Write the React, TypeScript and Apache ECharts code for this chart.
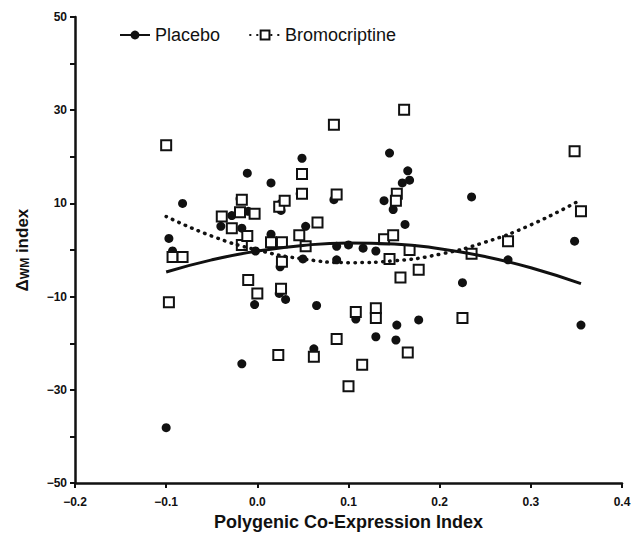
import React, { useEffect, useRef } from "react";
import * as echarts from "echarts";

// Placebo (filled circles)
const placeboX = [-0.100, -0.097, -0.093, -0.082, -0.040, -0.028, -0.019, -0.017, -0.011, -0.017, -0.010, -0.002, -0.003, 0.015, 0.015, 0.026, 0.026, 0.025, 0.024, 0.031, 0.047, 0.049, 0.053, 0.050, 0.065, 0.062, 0.084, 0.087, 0.087, 0.100, 0.116, 0.130, 0.108, 0.130, 0.145, 0.139, 0.149, 0.162, 0.153, 0.152, 0.177, 0.165, 0.159, 0.167, 0.225, 0.235, 0.275, 0.348, 0.355];
const placeboY = [-38.1, 2.5, -0.2, 10.0, 5.1, 7.4, 11.0, 4.7, 16.5, -24.4, 8.3, -0.2, -11.7, 14.4, 3.4, 10.0, 8.5, -3.6, -9.3, -10.6, 12.1, 19.7, 5.1, -1.9, -11.9, -21.2, 10.8, 0.8, -2.1, 1.1, 0.4, -0.2, -14.8, -18.6, 20.8, 10.6, 8.7, 5.5, -16.1, -19.3, -15.0, 17.0, 14.4, 15.0, -7.0, 11.4, -2.1, 1.9, -16.1];

// Bromocriptine (open squares)
const bromoX = [-0.100, -0.097, -0.093, -0.082, -0.039, -0.028, -0.019, -0.017, -0.017, -0.011, -0.010, -0.003, 0.000, 0.015, 0.027, 0.024, 0.030, 0.027, 0.026, 0.023, 0.046, 0.049, 0.049, 0.053, 0.066, 0.062, 0.084, 0.087, 0.087, 0.100, 0.108, 0.115, 0.130, 0.130, 0.139, 0.149, 0.145, 0.153, 0.152, 0.157, 0.161, 0.167, 0.165, 0.177, 0.225, 0.235, 0.275, 0.348, 0.355];
const bromoY = [22.5, -11.2, -1.5, -1.5, 7.2, 4.7, 8.1, 10.8, 1.1, 3.0, -6.4, 7.8, -9.3, 1.7, 1.7, 9.3, 10.6, -2.5, -8.3, -22.5, 3.2, 16.3, 12.1, 0.8, 5.9, -22.9, 26.9, 11.9, -19.1, -29.2, -13.3, -24.6, -12.5, -14.6, 2.3, 3.2, -1.9, 12.1, 10.6, -5.9, 30.1, 0.0, -22.0, -4.2, -14.6, -0.8, 1.9, 21.2, 8.3];

// Fitted curves
const fitX = [-0.1, -0.05, 0, 0.05, 0.1, 0.15, 0.2, 0.25, 0.3, 0.355];
const placeboFit = [-4.7, -2.1, -0.2, 1.0, 1.5, 1.3, 0.3, -1.4, -3.8, -7.2];
const bromoFit = [7.2, 3.0, 0.0, -1.9, -2.7, -2.3, -0.9, 1.7, 5.4, 10.8];

const FONT = "'Liberation Sans', Arial, Helvetica, sans-serif";
const minus = (s: string) => s.replace("-", "\u2212");

export default function App() {
  const ref = useRef<HTMLDivElement>(null);
  useEffect(() => {
    if (!ref.current) return;
    const chart = echarts.init(ref.current, undefined, { renderer: "svg" });
    const pts = (xs: number[], ys: number[]) => xs.map((x, i) => [x, ys[i]]);
    chart.setOption({
      animation: false,
      backgroundColor: "#fff",
      grid: { left: 75, right: 17, top: 17, bottom: 38, containLabel: false },
      legend: {
        left: 114,
        top: 21,
        itemWidth: 30,
        itemHeight: 11,
        itemGap: 29,
        data: ["Placebo", "Bromocriptine"],
        textStyle: { fontFamily: FONT, fontSize: 18, color: "#111" },
      },
      xAxis: {
        type: "value",
        min: -0.2,
        max: 0.4,
        interval: 0.1,
        name: "Polygenic Co-Expression Index",
        nameLocation: "middle",
        nameGap: 22,
        nameTextStyle: { fontFamily: FONT, fontSize: 18, fontWeight: "bold", color: "#111" },
        axisLine: { onZero: false, lineStyle: { color: "#111", width: 2.5 } },
        axisTick: { show: true, length: 5, lineStyle: { color: "#111", width: 2 } },
        axisLabel: {
          fontFamily: FONT,
          fontSize: 12,
          fontWeight: "bold",
          color: "#111",
          margin: 13,
          formatter: (v: number) => minus(v.toFixed(1)),
        },
        splitLine: { show: false },
      },
      yAxis: {
        type: "value",
        min: -50,
        max: 50,
        interval: 20,
        name: "{a|\u0394}{b|WM}{a| index}",
        nameLocation: "middle",
        nameGap: 44,
        nameRotate: 90,
        nameTextStyle: {
          fontFamily: FONT,
          color: "#111",
          rich: {
            a: { fontFamily: FONT, fontSize: 17, fontWeight: "bold", color: "#111" },
            b: { fontFamily: FONT, fontSize: 12, fontWeight: "bold", color: "#111", verticalAlign: "bottom", padding: [6, 0, 0, 0] },
          },
        },
        axisLine: { show: true, onZero: false, lineStyle: { color: "#111", width: 2.5 } },
        axisTick: { show: true, length: 5, lineStyle: { color: "#111", width: 2 } },
        minorTick: { show: true, splitNumber: 2, length: 5, lineStyle: { color: "#111", width: 2 } },
        axisLabel: {
          fontFamily: FONT,
          fontSize: 12,
          fontWeight: "bold",
          color: "#111",
          margin: 8,
          formatter: (v: number) => minus(String(v)),
        },
        splitLine: { show: false },
        minorSplitLine: { show: false },
      },
      series: [
        {
          name: "Placebo",
          type: "line",
          data: pts(fitX, placeboFit),
          smooth: true,
          symbol: "circle",
          symbolSize: 9,
          showSymbol: false,
          itemStyle: { color: "#111" },
          lineStyle: { color: "#111", width: 3 },
          z: 4,
        },
        {
          name: "Bromocriptine",
          type: "line",
          data: pts(fitX, bromoFit),
          smooth: true,
          symbol: "emptyRect",
          symbolSize: 9,
          showSymbol: false,
          itemStyle: { color: "#111", borderWidth: 2 },
          lineStyle: { color: "#111", width: 3.5, type: [0.5, 6.5], cap: "round" },
          z: 4,
        },
        {
          name: "Placebo",
          type: "scatter",
          data: pts(placeboX, placeboY),
          symbol: "circle",
          symbolSize: 9,
          itemStyle: { color: "#111", opacity: 1 },
          z: 2,
        },
        {
          name: "Bromocriptine",
          type: "scatter",
          data: pts(bromoX, bromoY),
          symbol: "rect",
          symbolSize: 10,
          itemStyle: { color: "#fff", borderColor: "#111", borderWidth: 2, opacity: 1 },
          z: 3,
        },
      ],
    });
    return () => chart.dispose();
  }, []);
  return (
    <div
      ref={ref}
      style={{ position: "fixed", left: 0, top: 0, width: 639, height: 536, background: "#fff" }}
    />
  );
}
